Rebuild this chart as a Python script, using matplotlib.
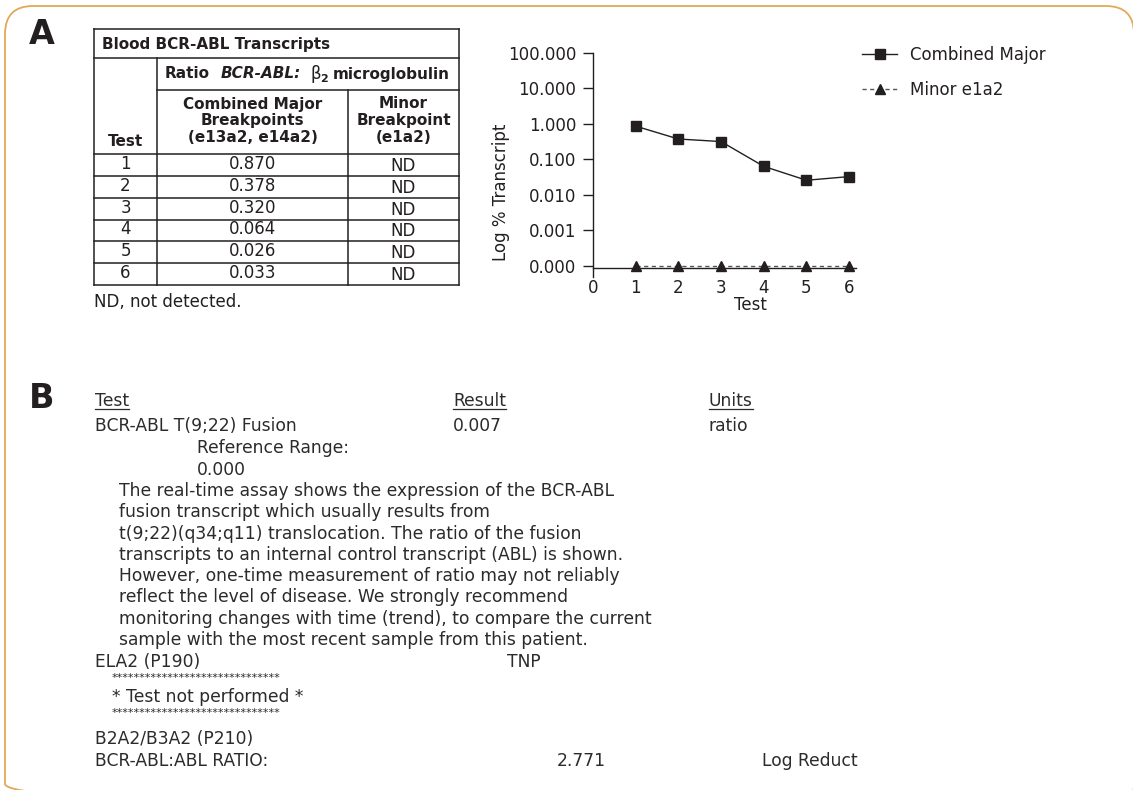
import matplotlib
matplotlib.use('Agg')
import matplotlib.pyplot as plt
from matplotlib.patches import FancyBboxPatch
from matplotlib.ticker import FuncFormatter, NullLocator

W, H = 1133, 790
ink = '#231f20'
frame = '#e3a857'

# panel A table
tests = [1, 2, 3, 4, 5, 6]
major_ratio = [0.870, 0.378, 0.320, 0.064, 0.026, 0.033]
minor_ratio = ['ND', 'ND', 'ND', 'ND', 'ND', 'ND']

# panel A chart (ND drawn on the 0.000 floor)
minor_plot = [0.0001, 0.0001, 0.0001, 0.0001, 0.0001, 0.0001]
y_ticks = [100, 10, 1, 0.1, 0.01, 0.001, 0.0001]
x_ticks = [0, 1, 2, 3, 4, 5, 6]
series_names = ['Combined Major', 'Minor e1a2']

# panel B report
report_header = ['Test', 'Result', 'Units']
fusion_row = ['BCR-ABL T(9;22) Fusion', '0.007', 'ratio']
reference_range = ['Reference Range:', '0.000']
comment_lines = [
    'The real-time assay shows the expression of the BCR-ABL',
    'fusion transcript which usually results from',
    't(9;22)(q34;q11) translocation. The ratio of the fusion',
    'transcripts to an internal control transcript (ABL) is shown.',
    'However, one-time measurement of ratio may not reliably',
    'reflect the level of disease. We strongly recommend',
    'monitoring changes with time (trend), to compare the current',
    'sample with the most recent sample from this patient.',
]
ela2_row = ['ELA2 (P190)', 'TNP']
not_performed = ['*' * 30, '* Test not performed *', '*' * 30]
b2a2_label = 'B2A2/B3A2 (P210)'
ratio_row = ['BCR-ABL:ABL RATIO:', '2.771', 'Log Reduct']

fig = plt.figure(figsize=(W / 100, H / 100), dpi=100)
fig.patch.set_facecolor('white')

# overlay in pixel coordinates
bg = fig.add_axes([0, 0, 1, 1])
bg.set_xlim(0, W)
bg.set_ylim(H, 0)
bg.axis('off')

bg.add_patch(FancyBboxPatch((5, 6), 1129, 806,
                            boxstyle='round,pad=0,rounding_size=28',
                            fill=False, ec=frame, lw=1.3))


def txt(x, y, s, **kw):
    kw.setdefault('fontsize', 12.3)
    kw.setdefault('color', ink)
    kw.setdefault('va', 'center')
    return bg.text(x, y, s, **kw)


def hline(x0, x1, y, lw=1.1):
    bg.plot([x0, x1], [y, y], color=ink, lw=lw, solid_capstyle='projecting')


def vline(x, y0, y1, lw=1.1):
    bg.plot([x, x], [y0, y1], color=ink, lw=lw, solid_capstyle='projecting')


txt(29, 35, 'A', fontsize=24, fontweight='bold')
txt(29, 398, 'B', fontsize=24, fontweight='bold')

# ---- table ----
tl, tr, tt, tb = 94, 459, 29, 285
c1, c2 = 157, 348
head_bottom = 154
row_h = (tb - head_bottom) / len(tests)

for y in (tt, 58, head_bottom, tb):
    hline(tl, tr, y)
hline(c1, tr, 90)
for i in range(1, len(tests)):
    hline(tl, tr, head_bottom + i * row_h)
vline(tl, tt, tb)
vline(tr, tt, tb)
vline(c1, 58, tb)
vline(c2, 90, tb)

txt(102, 45, 'Blood BCR-ABL Transcripts', fontsize=11, fontweight='bold')
txt(165, 74, 'Ratio', fontsize=11, fontweight='bold')
txt(221, 74, 'BCR-ABL:', fontsize=11, fontweight='bold', style='italic')
txt(311, 74, '\u03b2', fontsize=12)
txt(320, 79, '2', fontsize=8, fontweight='bold')
txt(333, 74, 'microglobulin', fontsize=11, fontweight='bold')

mc, nc, tc = (c1 + c2) / 2, (c2 + tr) / 2, (tl + c1) / 2
for y, s in zip((104, 121, 138), ('Combined Major', 'Breakpoints', '(e13a2, e14a2)')):
    txt(mc, y, s, fontsize=11, fontweight='bold', ha='center')
for y, s in zip((104, 121, 138), ('Minor', 'Breakpoint', '(e1a2)')):
    txt(nc, y, s, fontsize=11, fontweight='bold', ha='center')
txt(tc, 142, 'Test', fontsize=11, fontweight='bold', ha='center')

for i, (t, m, n) in enumerate(zip(tests, major_ratio, minor_ratio)):
    yc = head_bottom + (i + 0.5) * row_h
    txt(tc, yc - 1, str(t), ha='center', fontsize=12)
    txt(mc, yc - 1, f'{m:.3f}', ha='center', fontsize=12)
    txt(nc, yc + 1, n, ha='center', fontsize=12)

txt(94, 302, 'ND, not detected.', fontsize=12)

# ---- chart ----
ax = fig.add_axes([593 / W, 1 - 277 / H, 263 / W, 224 / H])
ax.set_yscale('log')
ax.plot(tests, major_ratio, color=ink, lw=1, marker='s', ms=7.5,
        label=series_names[0], clip_on=False, zorder=3)
ax.plot(tests, minor_plot, color='#555555', lw=1, ls=(0, (3, 2.5)),
        marker='^', ms=6.5, mfc=ink, mec=ink, label=series_names[1],
        clip_on=False, zorder=3)
ax.set_ylim(10 ** -4.31, 100)
ax.set_xlim(0, 6.16)
for s in ('top', 'right'):
    ax.spines[s].set_visible(False)
ax.spines['bottom'].set_position(('data', 10 ** -4.056))
for s in ('left', 'bottom'):
    ax.spines[s].set_color(ink)
    ax.spines[s].set_linewidth(1.0)

ax.set_yticks(y_ticks)
ax.yaxis.set_major_formatter(FuncFormatter(lambda v, p: f'{v:.3f}'))
ax.yaxis.set_minor_locator(NullLocator())
ax.set_xticks(x_ticks)
ax.tick_params(axis='y', length=7, width=1, pad=5, labelsize=12,
               colors=ink)
ax.tick_params(axis='x', length=0, pad=8, labelsize=12, colors=ink)
ax.set_facecolor('none')

ax.set_ylabel('Log % Transcript', fontsize=12, color=ink)
ax.yaxis.set_label_coords(-0.316, 0.38)
ax.set_xlabel('Test', fontsize=12, color=ink)
ax.xaxis.set_label_coords(0.60, -0.085)

ax.legend(loc='upper left', bbox_to_anchor=(862 / W, 1 - 46 / H),
          bbox_transform=fig.transFigure, frameon=False, borderpad=0,
          borderaxespad=0, handlelength=2.1, handletextpad=0.78,
          labelspacing=1.0, fontsize=12, labelcolor=ink)

# ---- report ----
col_x = [95, 453, 709]
rep = '#2b2b2b'
heads = [txt(x, 401, s, color=rep) for x, s in zip(col_x, report_header)]
for x, s in zip(col_x, fusion_row):
    txt(x, 426, s, color=rep)
txt(197, 448, reference_range[0], color=rep)
txt(197, 470, reference_range[1], color=rep)
for i, line in enumerate(comment_lines):
    txt(119, 491 + i * 21.3, line, color=rep)
txt(95, 662, ela2_row[0], color=rep)
txt(507, 662, ela2_row[1], color=rep)
txt(112, 678, not_performed[0], color=rep, fontsize=8)
txt(112, 697, not_performed[1], color=rep)
txt(112, 713, not_performed[2], color=rep, fontsize=8)
txt(95, 739, b2a2_label, color=rep)
for x, s in zip([95, 557, 762], ratio_row):
    txt(x, 761, s, color=rep)

fig.canvas.draw()
renderer = fig.canvas.get_renderer()
inv = bg.transData.inverted()
for t in heads:
    bb = t.get_window_extent(renderer)
    (x0, _), (x1, _) = inv.transform([(bb.x0, 0), (bb.x1, 0)])
    bg.plot([x0, x1], [409, 409], color=rep, lw=0.9)

fig.savefig('out.png', dpi=100, facecolor='white')
